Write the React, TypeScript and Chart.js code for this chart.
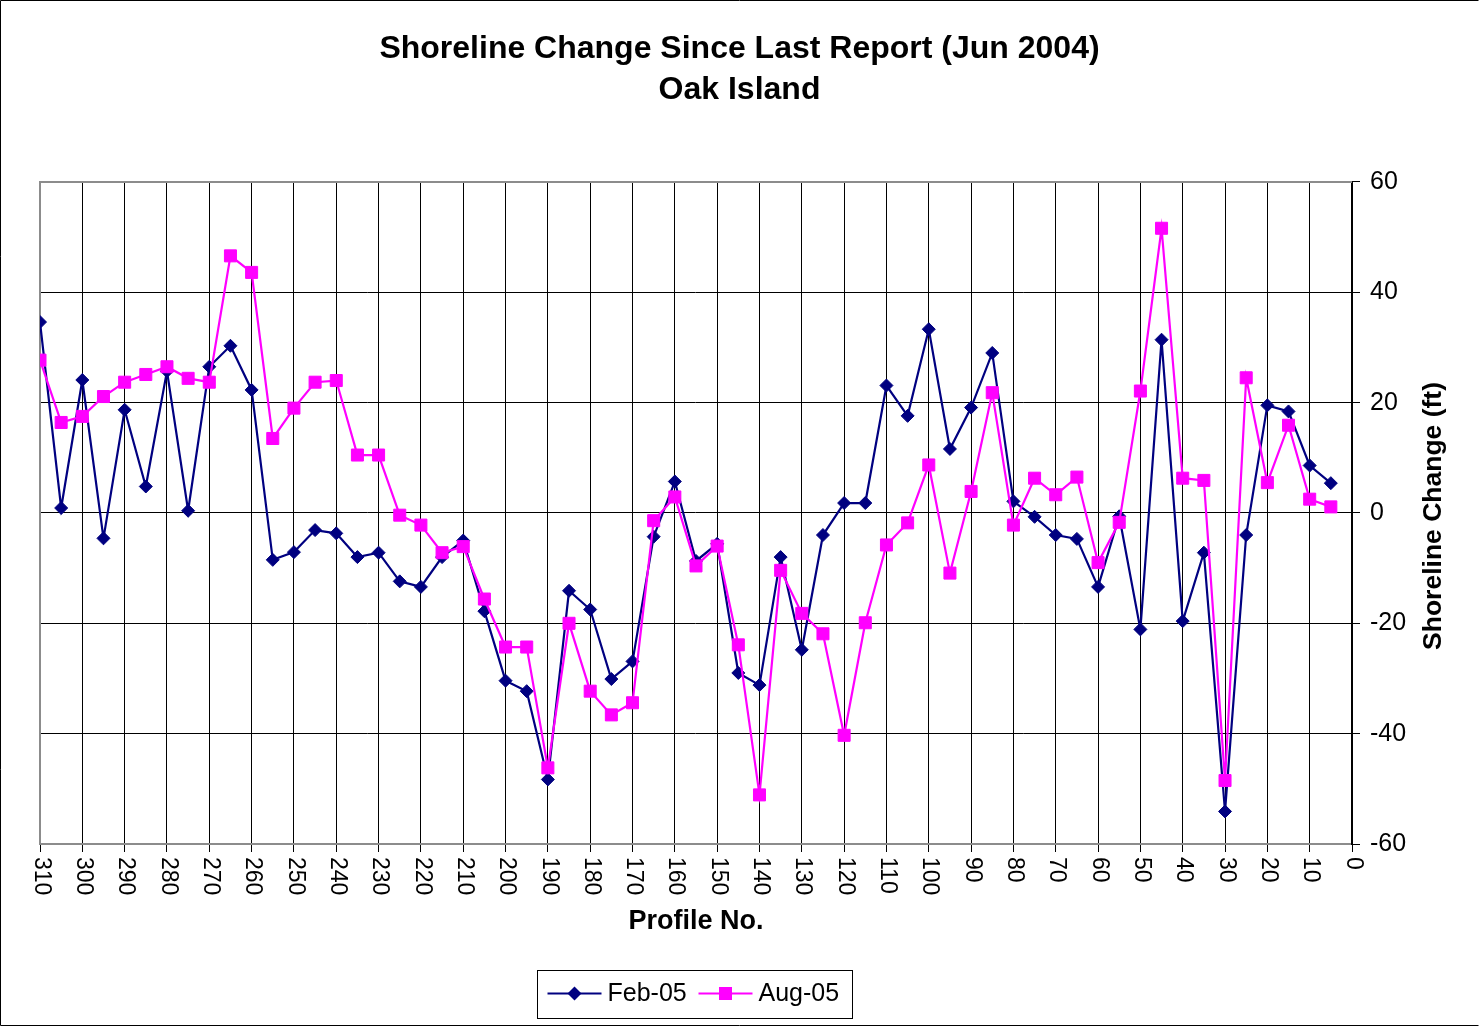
import React, { useEffect, useRef } from "react";
import { Chart, registerables } from "chart.js";

Chart.register(...registerables);

const TITLE_LINES = ["Shoreline Change Since Last Report (Jun 2004)", "Oak Island"];
const X_TITLE = "Profile No.";
const Y_TITLE = "Shoreline Change (ft)";
const SERIES_NAMES = ["Feb-05", "Aug-05"];

const profiles = [
  310, 305, 300, 295, 290, 285, 280, 275, 270, 265, 260, 255, 250, 245, 240, 235,
  230, 225, 220, 215, 210, 205, 200, 195, 190, 185, 180, 175, 170, 165, 160, 155,
  150, 145, 140, 135, 130, 125, 120, 115, 110, 105, 100, 95, 90, 85, 80, 75,
  70, 65, 60, 55, 50, 45, 40, 35, 30, 25, 20, 15, 10, 5,
];

const feb05 = [
  34.6, 0.9, 24.1, -4.6, 18.7, 4.8, 25.7, 0.4, 26.5, 30.3, 22.3, -8.5, -7.1, -3.1, -3.7, -8.0,
  -7.2, -12.4, -13.4, -8.0, -5.0, -17.8, -30.4, -32.3, -48.3, -14.1, -17.5, -30.1, -26.9, -4.3, 5.7, -8.7,
  -5.6, -29.0, -31.2, -8.0, -24.8, -4.0, 1.8, 1.8, 23.1, 17.6, 33.3, 11.6, 19.1, 29.0, 2.1, -0.7,
  -4.0, -4.7, -13.4, -0.6, -21.1, 31.4, -19.6, -7.2, -54.1, -4.0, 19.5, 18.4, 8.6, 5.4,
];

const aug05 = [
  27.7, 16.4, 17.5, 21.1, 23.7, 25.1, 26.5, 24.4, 23.7, 46.6, 43.6, 13.5, 19.0, 23.7, 24.0, 10.5,
  10.5, -0.4, -2.2, -7.2, -6.1, -15.6, -24.3, -24.3, -46.2, -20.0, -32.3, -36.6, -34.4, -1.4, 2.9, -9.6,
  -6.0, -23.9, -51.1, -10.4, -18.2, -21.9, -40.3, -19.9, -5.8, -1.8, 8.7, -10.9, 3.9, 21.8, -2.2, 6.3,
  3.3, 6.5, -9.0, -1.7, 22.1, 51.6, 6.3, 5.9, -48.5, 24.5, 5.5, 15.9, 2.5, 1.1,
];

const X_MIN = 0;
const X_MAX = 310;
const X_STEP = 10;
const Y_MIN = -60;
const Y_MAX = 60;
const Y_STEP = 20;

const FONT = "'Liberation Sans', Arial, Helvetica, sans-serif";
const NAVY = "#000080";
const MAGENTA = "#FF00FF";
const W = 1479;
const H = 1029;

const decorPlugin = {
  id: "decor",
  beforeDatasetsDraw(chart: any) {
    const { ctx, chartArea } = chart;
    ctx.save();
    ctx.strokeStyle = "#8c8c8c";
    ctx.lineWidth = 2;
    ctx.beginPath();
    ctx.moveTo(chartArea.left, chartArea.bottom);
    ctx.lineTo(chartArea.left, chartArea.top);
    ctx.lineTo(chartArea.right, chartArea.top);
    ctx.stroke();
    ctx.restore();
  },
  afterDraw(chart: any) {
    const { ctx, chartArea, scales } = chart;
    const xs = scales.x;
    ctx.save();
    // x tick labels, rotated clockwise
    ctx.fillStyle = "#000";
    ctx.font = `23px ${FONT}`;
    ctx.textAlign = "left";
    ctx.textBaseline = "middle";
    for (const t of xs.ticks) {
      const px = xs.getPixelForValue(t.value);
      ctx.save();
      ctx.translate(px + 1, chartArea.bottom + 13);
      ctx.rotate(Math.PI / 2);
      ctx.fillText(String(t.value), 0, 0);
      ctx.restore();
    }
    // y title, reading upward
    ctx.save();
    ctx.font = `bold 26.5px ${FONT}`;
    ctx.textAlign = "center";
    ctx.textBaseline = "middle";
    ctx.translate(1434, (chartArea.top + chartArea.bottom) / 2 + 3);
    ctx.rotate(-Math.PI / 2);
    ctx.fillText(Y_TITLE, 0, 0);
    ctx.restore();

    // legend
    const cx = (chartArea.left + chartArea.right) / 2;
    const bx = Math.round(cx - 159) + 0.5;
    const by = 970.5;
    ctx.strokeStyle = "#000";
    ctx.lineWidth = 1;
    ctx.strokeRect(bx, by, 315, 48);
    const ly = by + 23;
    const items = [
      { name: SERIES_NAMES[0], color: NAVY, style: "diamond", x0: bx + 10 },
      { name: SERIES_NAMES[1], color: MAGENTA, style: "square", x0: bx + 161 },
    ];
    ctx.font = `25px ${FONT}`;
    ctx.textBaseline = "middle";
    ctx.textAlign = "left";
    for (const it of items) {
      ctx.strokeStyle = it.color;
      ctx.lineWidth = 2;
      ctx.beginPath();
      ctx.moveTo(it.x0, ly);
      ctx.lineTo(it.x0 + 54, ly);
      ctx.stroke();
      const mx = it.x0 + 27;
      ctx.fillStyle = it.color;
      ctx.beginPath();
      if (it.style === "diamond") {
        ctx.moveTo(mx - 7, ly);
        ctx.lineTo(mx, ly - 7);
        ctx.lineTo(mx + 7, ly);
        ctx.lineTo(mx, ly + 7);
        ctx.closePath();
      } else {
        ctx.rect(mx - 6.5, ly - 6.5, 13, 13);
      }
      ctx.fill();
      ctx.fillStyle = "#000";
      ctx.fillText(it.name, it.x0 + 60, ly + 1);
    }

    // outer frame
    ctx.strokeStyle = "#000";
    ctx.lineWidth = 1;
    ctx.beginPath();
    ctx.moveTo(0.5, 0.5);
    ctx.lineTo(0.5, 1025.5);
    ctx.lineTo(W - 0.5, 1025.5);
    ctx.moveTo(0.5, 0.5);
    ctx.lineTo(W - 0.5, 0.5);
    ctx.stroke();
    ctx.restore();
  },
};

export default function App() {
  const canvasRef = useRef<HTMLCanvasElement | null>(null);

  useEffect(() => {
    if (!canvasRef.current) return;
    Chart.defaults.font.family = FONT;
    Chart.defaults.color = "#000";
    const chart = new Chart(canvasRef.current, {
      type: "line",
      data: {
        datasets: [
          {
            label: SERIES_NAMES[0],
            data: profiles.map((p, i) => ({ x: p, y: feb05[i] })),
            borderColor: NAVY,
            backgroundColor: NAVY,
            borderWidth: 2.2,
            pointStyle: "rectRot",
            pointRadius: 6.5,
            pointBorderWidth: 1,
            pointBackgroundColor: NAVY,
            pointBorderColor: NAVY,
            tension: 0,
            order: 2,
          },
          {
            label: SERIES_NAMES[1],
            data: profiles.map((p, i) => ({ x: p, y: aug05[i] })),
            borderColor: MAGENTA,
            backgroundColor: MAGENTA,
            borderWidth: 2.2,
            pointStyle: "rect",
            pointRadius: 8.5,
            pointBorderWidth: 1,
            pointBackgroundColor: MAGENTA,
            pointBorderColor: MAGENTA,
            tension: 0,
            order: 1,
          },
        ],
      },
      options: {
        responsive: false,
        animation: false,
        events: [],
        layout: { padding: { left: 40, right: 40, top: 0, bottom: 75 } },
        plugins: {
          legend: { display: false },
          tooltip: { enabled: false },
          title: {
            display: true,
            text: TITLE_LINES,
            color: "#000",
            font: { size: 32, weight: "bold", family: FONT, lineHeight: 1.28 },
            padding: { top: 29, bottom: 71 },
          },
        },
        scales: {
          x: {
            type: "linear",
            reverse: true,
            min: X_MIN,
            max: X_MAX,
            ticks: { stepSize: X_STEP, display: false, autoSkip: false },
            grid: {
              color: (c: any) => (c.tick && c.tick.value === X_MAX ? "#8c8c8c" : "#000"),
              lineWidth: 1,
              drawTicks: true,
              tickLength: 8,
              tickColor: "#000",
            },
            border: { display: true, color: "#8c8c8c", width: 2 },
            title: {
              display: true,
              text: X_TITLE,
              color: "#000",
              font: { size: 27, weight: "bold", family: FONT },
              padding: { top: 0, bottom: 16 },
            },
            afterFit: (s: any) => {
              s.height = 110;
            },
          },
          y: {
            type: "linear",
            position: "right",
            min: Y_MIN,
            max: Y_MAX,
            ticks: {
              stepSize: Y_STEP,
              color: "#000",
              font: { size: 25, family: FONT },
              padding: 10,
            },
            grid: {
              color: (c: any) => (c.tick && c.tick.value === Y_MAX ? "#8c8c8c" : "#000"),
              lineWidth: 1,
              drawTicks: true,
              tickLength: 8,
              tickColor: "#000",
            },
            border: { display: true, color: "#000", width: 2 },
            title: { display: false },
            afterFit: (s: any) => {
              s.width = 87;
            },
          },
        },
      },
      plugins: [decorPlugin],
    });
    return () => chart.destroy();
  }, []);

  return (
    <div style={{ position: "absolute", left: 0, top: 0, width: W, height: H, background: "#fff" }}>
      <canvas ref={canvasRef} width={W} height={H} style={{ width: W, height: H, display: "block" }} />
    </div>
  );
}
